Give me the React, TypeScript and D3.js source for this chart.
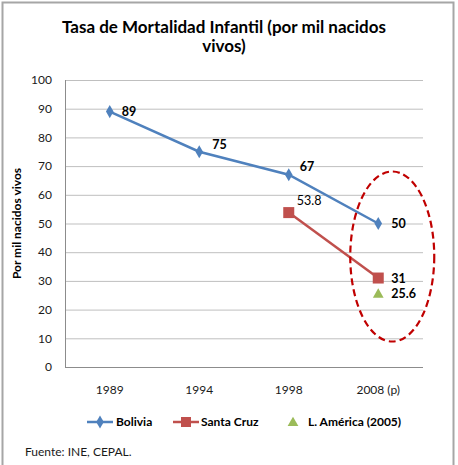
import React from 'react';
import * as d3 from 'd3';

const years = ['1989', '1994', '1998', '2008 (p)'];
const bolivia = [89, 75, 67, 50];
const santaCruz = [null, null, 53.8, 31];
const lAmerica = [null, null, null, 25.6];
const yTicks = [0, 10, 20, 30, 40, 50, 60, 70, 80, 90, 100];

const FONT = 'Lato, "Open Sans", sans-serif';
const BLUE = '#4F81BD';
const RED = '#C0504D';
const GREEN = '#9BBB59';

// label offsets (dx, dy) relative to each point, by series
const boliviaOff = [[12, 0], [13, -7], [11, -8], [13, 0]];
const santaOff = [null, null, [8, -12], [13, 1]];
const amerOff = [null, null, null, [13, 0]];

export default function App() {
    const W = 458;
    const H = 465;
    const x = d3.scalePoint<string>().domain(years).range([65, 423]).padding(0.5);
    const y = d3.scaleLinear().domain([0, 100]).range([367, 80]);

    const line = d3.line<[string, number | null]>()
        .defined((d) => d[1] != null)
        .x((d) => x(d[0]) as number)
        .y((d) => y(d[1] as number));

    const pairs = (arr: (number | null)[]) => years.map((yr, i) => [yr, arr[i]] as [string, number | null]);

    const diamond = d3.symbol().type(d3.symbolDiamond).size(50)();
    const triangle = d3.symbol().type(d3.symbolTriangle).size(50)();

    const labels: { x: number; y: number; t: string; w: number }[] = [];
    bolivia.forEach((v, i) => {
        const o = boliviaOff[i];
        labels.push({ x: (x(years[i]) as number) + o[0], y: y(v) + o[1], t: String(v), w: 700 });
    });
    santaCruz.forEach((v, i) => {
        const o = santaOff[i];
        if (v == null || !o) return;
        labels.push({ x: (x(years[i]) as number) + o[0], y: y(v) + o[1], t: String(v), w: i === 2 ? 400 : 700 });
    });
    lAmerica.forEach((v, i) => {
        const o = amerOff[i];
        if (v == null || !o) return;
        labels.push({ x: (x(years[i]) as number) + o[0], y: y(v) + o[1], t: String(v), w: 700 });
    });

    const last = years[years.length - 1];

    return (
        <svg width={W} height={H} style={{ position: 'absolute', left: 0, top: 0, background: '#fff' }} fontFamily={FONT}>
            <rect x={2.5} y={2.5} width={451} height={480} fill="#fff" stroke="#A6A6A6" strokeWidth={2} />

            {/* title */}
            <text x={224} y={33} textAnchor="middle" fontSize={17} fontWeight={700} fill="#000">
                Tasa de Mortalidad  Infantil (por mil nacidos
            </text>
            <text x={224} y={52} textAnchor="middle" fontSize={17} fontWeight={700} fill="#000">
                vivos)
            </text>

            {/* grid */}
            {yTicks.map((t) => (
                <line key={t} x1={65} x2={423} y1={y(t) + 0.5} y2={y(t) + 0.5} stroke={t === 0 ? '#8C8C8C' : '#BFBFBF'} strokeWidth={1} />
            ))}
            <line x1={65.5} x2={65.5} y1={y(100)} y2={y(0)} stroke="#8C8C8C" />

            {yTicks.map((t) => (
                <text key={t} x={52} y={y(t)} dy="0.35em" textAnchor="end" fontSize={12} fill="#1a1a1a">{t}</text>
            ))}
            {years.map((yr) => (
                <text key={yr} x={x(yr)} y={394} textAnchor="middle" fontSize={12} fill="#1a1a1a">{yr}</text>
            ))}

            <text transform={`translate(21,${(y(0) + y(100)) / 2}) rotate(-90)`} textAnchor="middle" fontSize={12} fontWeight={700} fill="#000">
                Por mil nacidos vivos
            </text>

            {/* series */}
            <path d={line(pairs(bolivia)) || ''} fill="none" stroke={BLUE} strokeWidth={2.5} />
            <path d={line(pairs(santaCruz)) || ''} fill="none" stroke={RED} strokeWidth={2.5} />
            {bolivia.map((v, i) => (
                <path key={i} d={diamond || ''} transform={`translate(${x(years[i])},${y(v)})`} fill={BLUE} />
            ))}
            {santaCruz.map((v, i) => v == null ? null : (
                <rect key={i} x={(x(years[i]) as number) - 5.5} y={y(v) - 5.5} width={11} height={11} fill={RED} />
            ))}
            {lAmerica.map((v, i) => v == null ? null : (
                <path key={i} d={triangle || ''} transform={`translate(${x(years[i])},${y(v) + 1})`} fill={GREEN} />
            ))}

            {labels.map((l, i) => (
                <text key={i} x={l.x} y={l.y} dy="0.35em" fontSize={12.5} fontWeight={l.w} fill="#000">{l.t}</text>
            ))}

            {/* highlight ellipse */}
            <ellipse cx={(x(last) as number) + 14} cy={y(38.5)} rx={42} ry={85} fill="none" stroke="#C00000" strokeWidth={2.2} strokeDasharray="7,4" />

            {/* legend */}
            <g fontSize={12} fontWeight={700} fill="#000">
                <line x1={87} x2={113} y1={422} y2={422} stroke={BLUE} strokeWidth={2.5} />
                <path d={diamond || ''} transform="translate(100,422)" fill={BLUE} />
                <text x={116} y={422} dy="0.35em">Bolivia</text>
                <line x1={173} x2={199} y1={422} y2={422} stroke={RED} strokeWidth={2.5} />
                <rect x={181} y={417} width={10} height={10} fill={RED} />
                <text x={201} y={422} dy="0.35em">Santa Cruz</text>
                <path d={triangle || ''} transform="translate(293,423)" fill={GREEN} />
                <text x={308} y={422} dy="0.35em">L. América (2005)</text>
            </g>

            <text x={25} y={456} fontSize={12} fill="#1a1a1a">Fuente: INE, CEPAL.</text>
        </svg>
    );
}
